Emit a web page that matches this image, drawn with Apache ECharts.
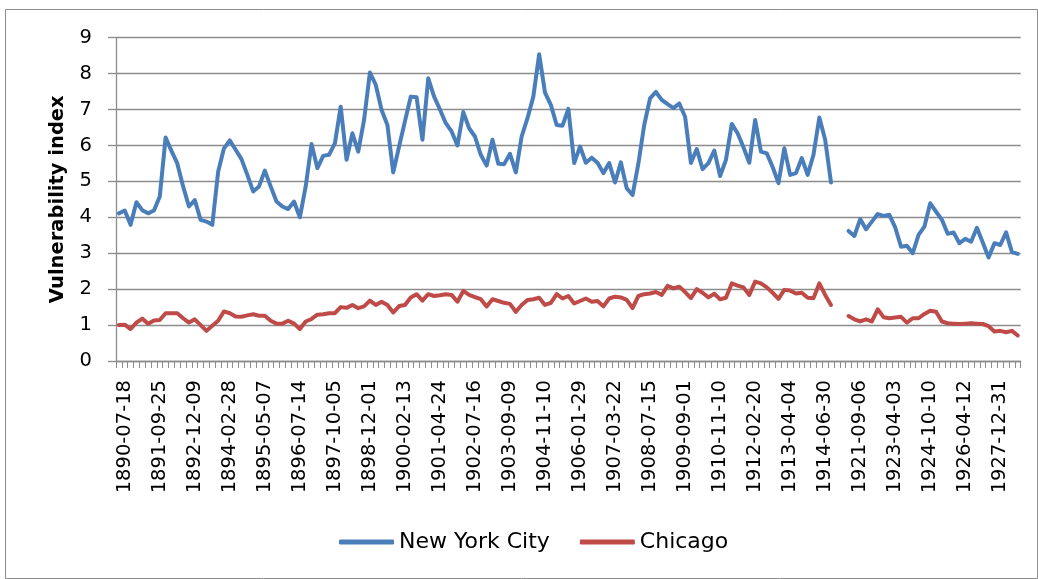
<!DOCTYPE html>
<html><head><meta charset="utf-8">
<script src="https://cdn.jsdelivr.net/npm/echarts@6/dist/echarts.min.js"></script>
<style>html,body{margin:0;padding:0;background:#fff}#c{width:1038px;height:579px}</style>
</head><body><div id="c"></div>
<script>
const categories = [
'1890-05-17','1890-07-18','1890-10-02','1890-12-19','1891-02-26','1891-05-04','1891-07-09','1891-09-25','1891-12-02','1892-03-01',
'1892-05-17','1892-07-12','1892-09-30','1892-12-09','1893-03-06','1893-05-04','1893-07-12','1893-10-03','1893-12-19','1894-02-28',
'1894-05-04','1894-07-18','1894-10-02','1894-12-19','1895-03-05','1895-05-07','1895-07-11','1895-09-28','1895-12-13','1896-02-28',
'1896-05-07','1896-07-14','1896-10-06','1896-12-17','1897-03-09','1897-05-14','1897-07-23','1897-10-05','1897-12-15','1898-02-18',
'1898-05-05','1898-07-14','1898-09-20','1898-12-01','1899-02-04','1899-04-05','1899-06-30','1899-09-07','1899-12-02','1900-02-13',
'1900-04-26','1900-06-29','1900-09-05','1900-12-13','1901-02-05','1901-04-24','1901-07-15','1901-09-30','1901-12-10','1902-02-25',
'1902-04-30','1902-07-16','1902-09-15','1902-11-25','1903-02-06','1903-04-09','1903-06-09','1903-09-09','1903-11-17','1904-01-22',
'1904-03-28','1904-06-09','1904-09-06','1904-11-10','1905-01-11','1905-03-14','1905-05-29','1905-08-25','1905-11-09','1906-01-29',
'1906-04-06','1906-06-18','1906-09-04','1906-11-12','1907-01-26','1907-03-22','1907-05-20','1907-08-22','1907-12-03','1908-02-14',
'1908-05-14','1908-07-15','1908-09-23','1908-11-27','1909-02-05','1909-04-28','1909-06-23','1909-09-01','1909-11-16','1910-01-31',
'1910-03-29','1910-06-30','1910-09-01','1910-11-10','1911-01-07','1911-03-07','1911-06-07','1911-09-01','1911-12-05','1912-02-20',
'1912-04-18','1912-06-14','1912-09-04','1912-11-26','1913-02-04','1913-04-04','1913-06-04','1913-08-09','1913-10-21','1914-01-13',
'1914-03-04','1914-06-30','1914-09-12','1914-10-31','1914-12-31','1921-04-28','1921-06-30','1921-09-06','1921-12-31','1922-03-10',
'1922-06-30','1922-09-15','1922-12-29','1923-04-03','1923-06-30','1923-09-14','1923-12-31','1924-03-31','1924-06-30','1924-10-10',
'1924-12-31','1925-04-06','1925-06-30','1925-09-28','1925-12-31','1926-04-12','1926-06-30','1926-12-31','1927-03-23','1927-06-30',
'1927-10-10','1927-12-31','1928-02-28','1928-06-30','1928-10-03'];

const newYorkCity = [
4.11,4.19,3.79,4.42,4.2,4.11,4.19,4.58,6.22,5.85,
5.5,4.86,4.3,4.48,3.93,3.88,3.79,5.27,5.92,6.14,
5.88,5.62,5.18,4.72,4.86,5.3,4.86,4.44,4.3,4.23,
4.44,4.0,4.86,6.04,5.37,5.71,5.74,6.06,7.08,5.6,
6.34,5.83,6.71,8.03,7.69,6.99,6.57,5.25,5.97,6.67,
7.36,7.34,6.16,7.87,7.36,7.0,6.62,6.39,6.0,6.93,
6.48,6.25,5.74,5.44,6.16,5.49,5.48,5.77,5.25,6.25,
6.76,7.36,8.54,7.47,7.13,6.57,6.55,7.02,5.51,5.97,
5.52,5.66,5.52,5.23,5.51,4.97,5.53,4.81,4.62,5.5,
6.57,7.31,7.49,7.27,7.15,7.04,7.17,6.8,5.51,5.9,
5.34,5.51,5.86,5.15,5.6,6.6,6.34,5.95,5.52,6.71,
5.83,5.78,5.4,4.95,5.92,5.18,5.23,5.65,5.18,5.74,
6.78,6.16,4.97,null,null,3.62,3.48,3.95,3.67,3.88,
4.09,4.04,4.07,3.72,3.18,3.21,3.0,3.51,3.74,4.39,
4.16,3.93,3.54,3.58,3.28,3.4,3.32,3.71,3.3,2.88,
3.28,3.23,3.58,3.03,2.98];

const chicago = [
1.0,1.01,0.89,1.07,1.18,1.04,1.13,1.14,1.33,1.33,
1.33,1.19,1.07,1.16,1.0,0.84,0.98,1.12,1.38,1.33,
1.24,1.23,1.27,1.3,1.26,1.26,1.12,1.04,1.04,1.12,
1.04,0.89,1.1,1.17,1.29,1.3,1.33,1.33,1.5,1.48,
1.56,1.47,1.52,1.68,1.56,1.65,1.56,1.35,1.53,1.56,
1.77,1.86,1.68,1.86,1.81,1.83,1.86,1.84,1.65,1.95,
1.84,1.78,1.72,1.52,1.72,1.67,1.62,1.59,1.37,1.56,
1.7,1.72,1.76,1.56,1.62,1.86,1.74,1.81,1.6,1.67,
1.74,1.65,1.67,1.52,1.74,1.79,1.77,1.7,1.47,1.81,
1.86,1.88,1.92,1.84,2.09,2.02,2.07,1.92,1.75,2.0,
1.9,1.77,1.87,1.72,1.76,2.16,2.1,2.05,1.84,2.21,
2.16,2.05,1.9,1.73,1.98,1.96,1.88,1.9,1.76,1.75,
2.16,1.84,1.56,null,null,1.25,1.16,1.1,1.16,1.1,
1.44,1.22,1.19,1.21,1.23,1.07,1.19,1.19,1.31,1.4,
1.37,1.1,1.05,1.04,1.03,1.04,1.05,1.04,1.03,0.97,
0.82,0.84,0.8,0.84,0.71];

const yTicks = [0,1,2,3,4,5,6,7,8,9];
const FONT = 'DejaVu Sans';

const chart = echarts.init(document.getElementById('c'), null, {renderer:'canvas'});
chart.setOption({
  animation:false,
  backgroundColor:'#ffffff',
  graphic:[{type:'rect', left:3, top:7, shape:{width:1032, height:569}, style:{fill:'none', stroke:'#8c8c8c', lineWidth:1}}],
  grid:{left:116, top:37.7, right:17.3, bottom:218, containLabel:false},
  legend:{
    left:339, top:531, padding:0, itemGap:30, itemWidth:55, itemHeight:5,
    icon:'roundRect',
    textStyle:{fontFamily:FONT, fontSize:22, color:'#000'},
    data:['New York City','Chicago']
  },
  xAxis:{
    type:'category', data:categories, boundaryGap:true,
    axisLine:{lineStyle:{color:'#8c8c8c', width:1.3}},
    axisTick:{show:true, interval:0, length:7, lineStyle:{color:'#8c8c8c', width:1}},
    axisLabel:{rotate:90, margin:19, interval:(i)=> i%6===1, fontFamily:FONT, fontSize:19.5, color:'#000'},
    splitLine:{show:false}
  },
  yAxis:{
    type:'value', min:yTicks[0], max:yTicks[yTicks.length-1], interval:1,
    name:'Vulnerability index', nameLocation:'middle', nameGap:48,
    nameTextStyle:{fontFamily:FONT, fontSize:19.5, fontWeight:'bold', color:'#000'},
    axisLine:{show:true, lineStyle:{color:'#8c8c8c', width:1.3}},
    axisTick:{show:true, length:8, lineStyle:{color:'#8c8c8c', width:1.3}},
    axisLabel:{margin:24, fontFamily:FONT, fontSize:19.5, color:'#000'},
    splitLine:{lineStyle:{color:'#8c8c8c', width:1.3}}
  },
  series:[
    {name:'New York City', type:'line', data:newYorkCity, symbol:'none', connectNulls:false,
     lineStyle:{color:'#4a7ebb', width:4, cap:'round', join:'round'}, itemStyle:{color:'#4a7ebb'}},
    {name:'Chicago', type:'line', data:chicago, symbol:'none', connectNulls:false,
     lineStyle:{color:'#be4b48', width:4, cap:'round', join:'round'}, itemStyle:{color:'#be4b48'}}
  ]
});
</script></body></html>
